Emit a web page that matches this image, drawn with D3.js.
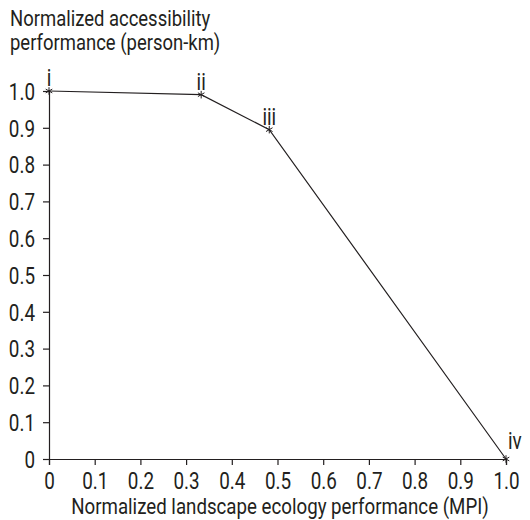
<!DOCTYPE html>
<html lang="en">
<head>
<meta charset="UTF-8">
<title>Accessibility vs landscape ecology</title>
<script src="https://cdn.jsdelivr.net/npm/d3@7"></script>
<style>
  body { margin: 0; background: #fff; }
  text { font-family: Roboto, "Liberation Sans", sans-serif; fill: #231f20; }
</style>
</head>
<body>
<script>
// data
var labels = ['i', 'ii', 'iii', 'iv'];
var xVals = [0, 0.333, 0.482, 1.0];
var yVals = [1.0, 0.99, 0.895, 0];
var xTicks = [0, 0.1, 0.2, 0.3, 0.4, 0.5, 0.6, 0.7, 0.8, 0.9, 1.0];
var yTicks = [0, 0.1, 0.2, 0.3, 0.4, 0.5, 0.6, 0.7, 0.8, 0.9, 1.0];

var W = 530, H = 520;
var margin = { top: 91, right: 24, bottom: 61, left: 49 };
var width = W - margin.left - margin.right;
var height = H - margin.top - margin.bottom;

var svg = d3.select('body').append('svg')
  .attr('width', W)
  .attr('height', H);

var g = svg.append('g')
  .attr('transform', `translate(${margin.left}, ${margin.top})`);

var x = d3.scaleLinear().domain([0, 1]).range([0, width]);
var y = d3.scaleLinear().domain([0, 1]).range([height, 0]);

var fmt = d => d === 0 ? '0' : d3.format('.1f')(d);

// narrow text by scaling horizontally, keeping its anchor point
function condense(sel, k) {
  sel.each(function () {
    var t = d3.select(this);
    var x0 = +t.attr('x') || 0;
    t.attr('x', x0 / k).attr('transform', `scale(${k},1)`);
  });
}

var xAxis = g.append('g')
  .attr('transform', `translate(0, ${height})`)
  .call(d3.axisBottom(x).tickValues(xTicks).tickFormat(fmt).tickSize(6).tickPadding(7));

var yAxis = g.append('g')
  .call(d3.axisLeft(y).tickValues(yTicks).tickFormat(fmt).tickSize(6).tickPadding(8));

[xAxis, yAxis].forEach(function (a) {
  a.select('.domain').attr('stroke', '#231f20').attr('stroke-width', 1.2);
  a.selectAll('.tick line').attr('stroke', '#231f20').attr('stroke-width', 1.2);
  a.selectAll('.tick text')
    .style('font-size', '23px')
    .attr('fill', '#231f20')
    .call(condense, 0.82);
});
xAxis.selectAll('.tick text').attr('dy', '0.72em');
yAxis.selectAll('.tick text').attr('dy', '0.36em');

var pts = labels.map((d, i) => ({ label: d, x: xVals[i], y: yVals[i] }));
var last = pts.length - 1;

var line = d3.line().x(d => x(d.x)).y(d => y(d.y));

g.append('path')
  .datum(pts)
  .attr('d', line)
  .attr('fill', 'none')
  .attr('stroke', '#231f20')
  .attr('stroke-width', 1.2);

// asterisk markers
var sym = d3.symbol().type(d3.symbolAsterisk).size(40);
g.selectAll('.mark')
  .data(pts)
  .enter().append('path')
  .attr('class', 'mark')
  .attr('d', sym)
  .attr('transform', d => `translate(${x(d.x)}, ${y(d.y)})`)
  .attr('fill', 'none')
  .attr('stroke', '#231f20')
  .attr('stroke-width', 1);

// the end label sits to the right of its point, the others are centred
g.selectAll('.lbl')
  .data(pts)
  .enter().append('text')
  .attr('class', 'lbl')
  .text(d => d.label)
  .attr('text-anchor', (d, i) => i === last ? 'start' : 'middle')
  .attr('x', (d, i) => x(d.x) + (i === last ? 2 : 0))
  .attr('y', (d, i) => y(d.y) - (i === last ? 10 : 5))
  .style('font-size', '23px')
  .call(condense, 0.82);

svg.append('text')
  .text('Normalized accessibility')
  .attr('x', 10)
  .attr('y', 26)
  .style('font-size', '22px')
  .call(condense, 0.84);

svg.append('text')
  .text('performance (person-km)')
  .attr('x', 10)
  .attr('y', 50)
  .style('font-size', '22px')
  .call(condense, 0.84);

svg.append('text')
  .text('Normalized landscape ecology performance (MPI)')
  .attr('text-anchor', 'middle')
  .attr('x', 280)
  .attr('y', 514)
  .style('font-size', '22px')
  .call(condense, 0.85);
</script>
</body>
</html>
